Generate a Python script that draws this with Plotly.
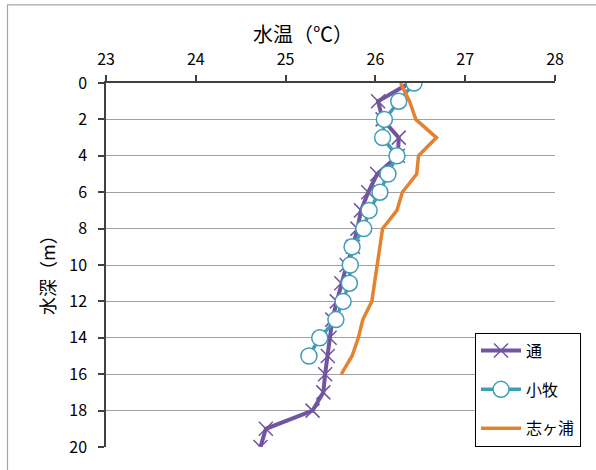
import plotly.graph_objects as go

# depths (m)
depth_tori = list(range(0, 21))
depth_komaki = list(range(0, 16))
depth_shiga = list(range(0, 17))

# water temperature (°C)
temp_tori = [26.38, 26.03, 26.08, 26.26, 26.25, 26.02, 25.92, 25.84, 25.80, 25.75,
             25.68, 25.62, 25.57, 25.52, 25.49, 25.47, 25.44, 25.42, 25.30, 24.78, 24.72]
temp_komaki = [26.43, 26.26, 26.10, 26.08, 26.24, 26.14, 26.05, 25.93, 25.87, 25.74,
               25.72, 25.71, 25.64, 25.56, 25.38, 25.26]
temp_shiga = [26.28, 26.38, 26.45, 26.68, 26.48, 26.46, 26.30, 26.24, 26.08, 26.05,
              26.02, 25.99, 25.96, 25.86, 25.81, 25.74, 25.62]

names = ["通", "小牧", "志ヶ浦"]
x_ticks = [23, 24, 25, 26, 27, 28]
y_ticks = list(range(0, 21, 2))

FONT = "Noto Sans CJK JP"
W, H = 596, 470
L, R, T, B = 106, 41, 83, 21
pw, ph = W - L - R, H - T - B

fig = go.Figure()
fig.add_trace(go.Scatter(
    x=temp_tori, y=depth_tori, name=names[0], mode="lines+markers", legendgroup="a",
    line=dict(color="#7155A0", width=4),
    marker=dict(symbol="x-thin", size=14, color="#7155A0",
                line=dict(color="#7155A0", width=1.5)),
))
fig.add_trace(go.Scatter(
    x=temp_komaki, y=depth_komaki, name=names[1], mode="lines+markers", legendgroup="b",
    line=dict(color="#3F9DB8", width=3.5),
    marker=dict(symbol="circle", size=16, color="white",
                line=dict(color="#3F9DB8", width=1.5)),
))
fig.add_trace(go.Scatter(
    x=temp_shiga, y=depth_shiga, name=names[2], mode="lines", legendgroup="c",
    line=dict(color="#E5822F", width=3.5),
))

def px2paper_x(px):
    return (px - L) / pw

def px2paper_y(py):
    return 1 - (py - T) / ph

fig.update_layout(
    width=W, height=H,
    margin=dict(l=L, r=R, t=T, b=B, pad=0),
    paper_bgcolor="white", plot_bgcolor="white",
    font=dict(family=FONT, size=16, color="#000000"),
    showlegend=True,
    legend=dict(
        x=px2paper_x(475), y=px2paper_y(334), xanchor="left", yanchor="top",
        bgcolor="white", bordercolor="#000000", borderwidth=1,
        font=dict(family=FONT, size=16, color="#000000"),
        tracegroupgap=15, itemwidth=40,
    ),
    xaxis=dict(
        side="top", range=[23, 28], tickvals=x_ticks, ticktext=[str(v) for v in x_ticks],
        showgrid=False, zeroline=False, showline=True, linecolor="#404040", linewidth=1.5,
        ticks="outside", ticklen=6, tickcolor="#404040", tickwidth=1.5,
        tickfont=dict(family=FONT, size=16), ticklabelstandoff=4,
    ),
    yaxis=dict(
        range=[20, 0], tickvals=y_ticks, ticktext=[str(v) for v in y_ticks],
        showgrid=True, gridcolor="#A0A0A0", gridwidth=1.3,
        zeroline=False, showline=True, linecolor="#404040", linewidth=1.5,
        ticks="outside", ticklen=6, tickcolor="#404040", tickwidth=1.5,
        tickfont=dict(family=FONT, size=16), ticklabelstandoff=8,
    ),
    annotations=[
        dict(text="水温（℃）", xref="paper", yref="paper",
             x=px2paper_x(303), y=px2paper_y(33), xanchor="center", yanchor="middle",
             showarrow=False, font=dict(family=FONT, size=20)),
        dict(text="水深（m）", xref="paper", yref="paper", textangle=-90,
             x=px2paper_x(47), y=px2paper_y(272), xanchor="center", yanchor="middle",
             showarrow=False, font=dict(family=FONT, size=18)),
    ],
    shapes=[
        dict(type="rect", xref="paper", yref="paper",
             x0=px2paper_x(7.5), x1=px2paper_x(620), y0=px2paper_y(500), y1=px2paper_y(4.5),
             line=dict(color="#A6A6A6", width=1.2), fillcolor="rgba(0,0,0,0)", layer="below"),
    ],
)

fig.write_html("out.html", config={"displayModeBar": False},
               post_script="document.body.style.margin='0';document.body.style.overflow='hidden';")
